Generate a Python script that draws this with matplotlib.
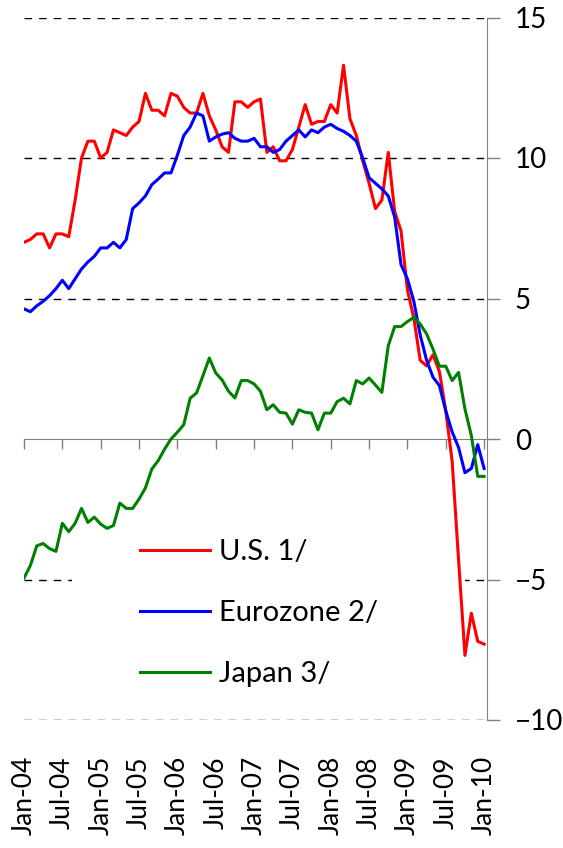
import numpy as np
import matplotlib
matplotlib.use("Agg")
import matplotlib.pyplot as plt
from matplotlib.patches import Rectangle

plt.rcParams['font.family'] = ['Lato', 'DejaVu Sans']

# monthly values, Jan-04 .. Jan-10
us = [7.0, 7.1, 7.3, 7.3, 6.8, 7.3, 7.3, 7.2, 8.5, 10.0, 10.6, 10.6,
      10.0, 10.2, 11.0, 10.9, 10.8, 11.1, 11.3, 12.3, 11.7, 11.7, 11.5, 12.3,
      12.2, 11.8, 11.6, 11.6, 12.3, 11.5, 11.0, 10.4, 10.2, 12.0, 12.0, 11.8,
      12.0, 12.1, 10.2, 10.4, 9.9, 9.9, 10.3, 11.1, 11.9, 11.2, 11.3, 11.3,
      11.9, 11.6, 13.3, 11.4, 10.8, 9.9, 9.1, 8.2, 8.5, 10.2, 8.1, 7.4,
      5.3, 4.3, 2.8, 2.6, 3.0, 2.4, 1.0, -0.8, -4.3, -7.7, -6.2, -7.2,
      -7.3]
euro = [4.63, 4.53, 4.74, 4.9, 5.1, 5.35, 5.65, 5.35, 5.7, 6.05, 6.3, 6.5,
        6.8, 6.8, 7.0, 6.8, 7.1, 8.2, 8.4, 8.65, 9.05, 9.25, 9.47, 9.47,
        10.1, 10.8, 11.1, 11.6, 11.5, 10.6, 10.75, 10.85, 10.9, 10.7, 10.6, 10.6,
        10.7, 10.4, 10.4, 10.2, 10.3, 10.6, 10.8, 11.0, 10.75, 11.0, 10.9, 11.1,
        11.2, 11.05, 10.95, 10.8, 10.6, 10.0, 9.3, 9.1, 8.9, 8.65, 7.9, 6.2,
        5.7, 4.9, 3.7, 2.8, 2.2, 1.9, 1.0, 0.25, -0.3, -1.2, -1.05, -0.2,
        -1.05]
japan = [-4.95, -4.5, -3.8, -3.72, -3.9, -4.0, -3.0, -3.3, -3.0, -2.47, -2.97, -2.78,
         -3.03, -3.18, -3.08, -2.28, -2.47, -2.47, -2.14, -1.74, -1.07, -0.77, -0.36, 0.0,
         0.24, 0.51, 1.45, 1.64, 2.25, 2.88, 2.35, 2.1, 1.7, 1.46, 2.08, 2.08,
         1.96, 1.7, 1.04, 1.22, 0.95, 0.92, 0.53, 1.04, 0.95, 0.92, 0.33, 0.92,
         0.92, 1.33, 1.45, 1.25, 2.08, 1.96, 2.17, 1.92, 1.66, 3.32, 4.0, 4.0,
         4.18, 4.33, 4.09, 3.74, 3.2, 2.59, 2.59, 2.08, 2.37, 1.07, 0.12, -1.33,
         -1.33]
tick_labels = ['Jan-04', 'Jul-04', 'Jan-05', 'Jul-05', 'Jan-06', 'Jul-06', 'Jan-07',
               'Jul-07', 'Jan-08', 'Jul-08', 'Jan-09', 'Jul-09', 'Jan-10']

months = np.arange(len(us))
tick_pos = np.arange(0, len(us), 6)

W, H = 563, 848
fig = plt.figure(figsize=(W / 100, H / 100), dpi=100)
ax = fig.add_axes([24 / W, 1 - 720 / H, (487 - 24) / W, (720 - 17.5) / H])

ax.plot(months, us, color='#ff0000', lw=2.2, label='U.S. 1/', zorder=3)
ax.plot(months, euro, color='#0000ff', lw=2.2, label='Eurozone 2/', zorder=3)
ax.plot(months, japan, color='#008000', lw=2.2, label='Japan 3/', zorder=3)

ax.set_xlim(0, 72.45)
ax.set_ylim(-10, 15)

# y axis on the right
ax.yaxis.tick_right()
ax.set_yticks([-10, -5, 0, 5, 10, 15])
ax.tick_params(axis='y', direction='out', length=9, width=1, color='#808080',
               pad=11, labelsize=20)
ax.yaxis.grid(True, linestyle=(0, (5.5, 5)), color='black', lw=1)
ax.get_ygridlines()[2].set_visible(False)

for s in ['top', 'left']:
    ax.spines[s].set_visible(False)
ax.spines['right'].set_color('#808080')
ax.spines['bottom'].set_position(('data', 0))
ax.spines['bottom'].set_color('#808080')

ax.set_xticks(tick_pos)
ax.tick_params(axis='x', direction='out', length=7, width=1, color='#808080',
               labelbottom=False)

# date labels sit below the plot
sec = ax.secondary_xaxis('bottom')
sec.set_xticks(tick_pos, tick_labels)
sec.tick_params(length=0, pad=26, labelsize=19, labelrotation=90)
sec.spines['bottom'].set_visible(False)

# white block behind the legend
ax.add_patch(Rectangle((0.104, 0.03), 0.848, 0.25, transform=ax.transAxes,
                       facecolor='white', edgecolor='none', zorder=1.8))

ax.legend(loc='upper left', bbox_to_anchor=(0.2505, 0.258), frameon=False,
          fontsize=21, handlelength=2.4, handletextpad=0.3, labelspacing=1.2,
          borderpad=0, borderaxespad=0)

fig.savefig('out.png', dpi=100)
